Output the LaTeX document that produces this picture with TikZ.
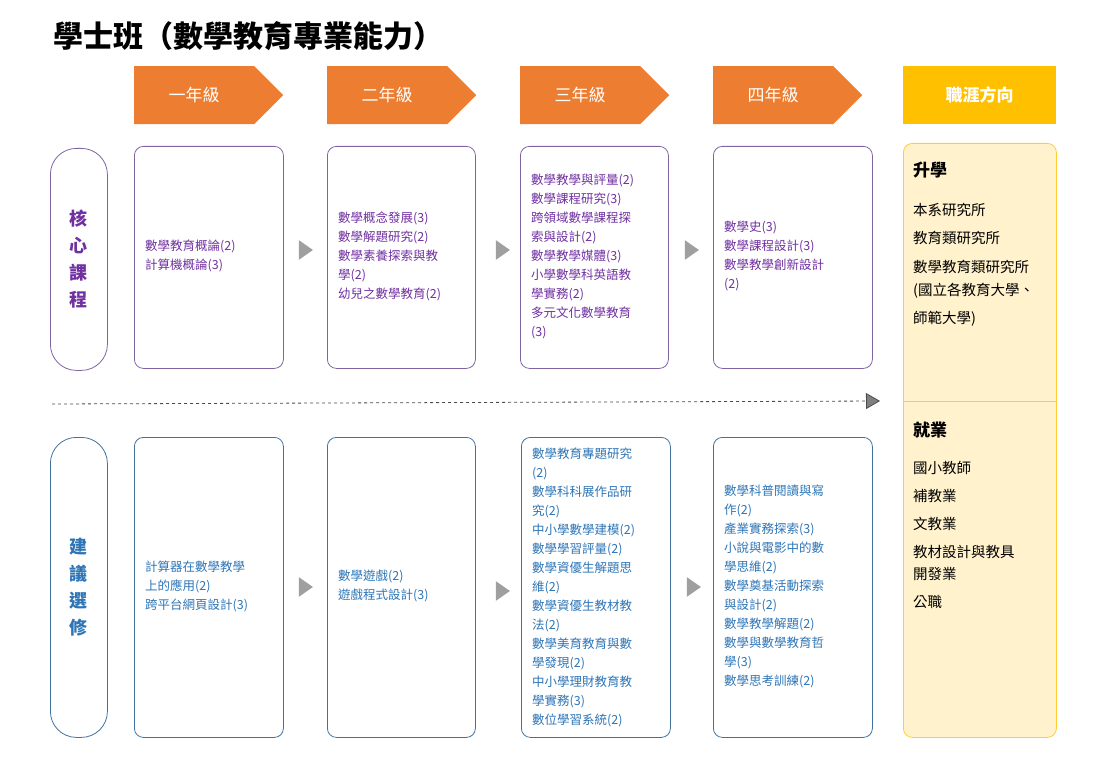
\documentclass[tikz,border=0pt]{standalone}
\usepackage{fontspec}
\setmainfont{Noto Sans CJK TC}
\usetikzlibrary{shapes.symbols,shapes.geometric,shapes.arrows,arrows.meta}
\definecolor{hdr}{HTML}{ED7D31}
\definecolor{gold}{HTML}{FFC000}
\definecolor{pale}{HTML}{FFF2CC}
\definecolor{paleline}{HTML}{FFD966}
\definecolor{core}{HTML}{7030A0}
\definecolor{coreline}{HTML}{8064A2}
\definecolor{elec}{HTML}{2E75B6}
\definecolor{elecline}{HTML}{41719C}
\tikzset{
  yearhdr/.style={signal, signal to=east, signal pointer angle=90, fill=hdr, text=white,
    minimum width=149pt, minimum height=58pt, anchor=north west, font=\fontsize{17}{17}\selectfont, inner sep=0pt},
  course/.style={draw=#1, rounded corners=9pt, thick, anchor=north west, text=#1},
  lst/.style={anchor=west, align=left, text=#1, font=\fontsize{12.5}{19}\selectfont, inner sep=0pt},
  pill/.style={draw=#1, rounded corners=26pt, thick, anchor=north west, minimum width=57pt},
  nexttri/.style={isosceles triangle, isosceles triangle apex angle=70, fill=gray!75, inner sep=0pt, minimum width=17pt, minimum height=14pt}
}
\begin{document}
\begin{tikzpicture}[x=1pt,y=-1pt]
\useasboundingbox (0,0) rectangle (1100,778);
\node[anchor=west, font=\fontsize{30}{30}\selectfont\bfseries] (title) at (50,36) {學士班（數學教育專業能力）};
% headers
\node[yearhdr] (h1) at (134,66) {一年級};
\node[yearhdr] (h2) at (327,66) {二年級};
\node[yearhdr] (h3) at (520,66) {三年級};
\node[yearhdr] (h4) at (713,66) {四年級};
\node[fill=gold, text=white, anchor=north west, minimum width=153pt, minimum height=58pt, font=\fontsize{17}{17}\selectfont\bfseries] (hj) at (903,66) {職涯方向};
% side labels
\node[pill=coreline, minimum height=222pt] (pc) at (50,148) {};
\node[text=core, align=center, font=\fontsize{18}{27}\selectfont\bfseries] (pct) at (pc) {核\\心\\課\\程};
\node[pill=elecline, minimum height=300pt] (pe) at (50,437) {};
\node[text=elec, align=center, font=\fontsize{18}{27}\selectfont\bfseries] (pet) at (pe) {建\\議\\選\\修};
% core boxes
\node[course=coreline, minimum width=149pt, minimum height=222pt] (c1) at (134,146) {};
\node[course=coreline, minimum width=148pt, minimum height=222pt] (c2) at (327,146) {};
\node[course=coreline, minimum width=148pt, minimum height=222pt] (c3) at (520,146) {};
\node[course=coreline, minimum width=159pt, minimum height=222pt] (c4) at (713,146) {};
\node[lst=core] at (145,256) {數學教育概論(2)\\計算機概論(3)};
\node[lst=core] at (338,256) {數學概念發展(3)\\數學解題研究(2)\\數學素養探索與教\\學(2)\\幼兒之數學教育(2)};
\node[lst=core] at (531,256) {數學教學與評量(2)\\數學課程研究(3)\\跨領域數學課程探\\索與設計(2)\\數學教學媒體(3)\\小學數學科英語教\\學實務(2)\\多元文化數學教育\\(3)};
\node[lst=core] at (724,256) {數學史(3)\\數學課程設計(3)\\數學教學創新設計\\(2)};
% elective boxes
\node[course=elecline, minimum width=149pt, minimum height=300pt] (e1) at (134,437) {};
\node[course=elecline, minimum width=148pt, minimum height=300pt] (e2) at (327,437) {};
\node[course=elecline, minimum width=149pt, minimum height=300pt] (e3) at (521,437) {};
\node[course=elecline, minimum width=159pt, minimum height=300pt] (e4) at (713,437) {};
\node[lst=elec] at (145,586) {計算器在數學教學\\上的應用(2)\\跨平台網頁設計(3)};
\node[lst=elec] at (338,586) {數學遊戲(2)\\遊戲程式設計(3)};
\node[lst=elec] at (532,587) {數學教育專題研究\\(2)\\數學科科展作品研\\究(2)\\中小學數學建模(2)\\數學學習評量(2)\\數學資優生解題思\\維(2)\\數學資優生教材教\\法(2)\\數學美育教育與數\\學發現(2)\\中小學理財教育教\\學實務(3)\\數位學習系統(2)};
\node[lst=elec] at (724,586) {數學科普閱讀與寫\\作(2)\\產業實務探索(3)\\小說與電影中的數\\學思維(2)\\數學奠基活動探索\\與設計(2)\\數學教學解題(2)\\數學與數學教育哲\\學(3)\\數學思考訓練(2)};
% step triangles
\foreach \x/\y/\n in {304/250/t1, 501/250/t2, 690/250/t3, 304/587/t4, 501/591/t5, 692/587/t6}
  \node[nexttri] (\n) at (\x,\y) {};
% career column
\node[fill=pale, draw=gold!80, thick, rounded corners=9pt, anchor=north west, minimum width=153pt, minimum height=594pt] (job) at (903,143) {};
\coordinate (dl) at (903,401);
\coordinate (dr) at (1056,401);
\draw[gold!80] (dl) -- (dr);
\node[anchor=north west, align=left, inner sep=0pt] (up) at (913,162) {\textbf{\fontsize{17}{20}\selectfont 升學}};
\node[anchor=north west, align=left, inner sep=0pt, font=\fontsize{14.5}{28.5}\selectfont] (upl) at (913,203) {本系研究所\\教育類研究所\\數學教育類研究所\\[-5pt](國立各教育大學、\\[-1pt]師範大學)};
\node[anchor=north west, align=left, inner sep=0pt] (jb) at (913,422) {\textbf{\fontsize{17}{20}\selectfont 就業}};
\node[anchor=north west, align=left, inner sep=0pt, font=\fontsize{14.5}{28}\selectfont] (jbl) at (913,461) {國小教師\\補教業\\文教業\\教材設計與教具\\[-6pt]開發業\\公職};
% dashed divider
\coordinate (ds) at (52,404);
\coordinate (de) at (880,401);
\draw[dashed, thick, -{Triangle[length=14pt,width=16pt,fill=gray]}, gray!60!black] (ds) -- (de);
\end{tikzpicture}
\end{document}
